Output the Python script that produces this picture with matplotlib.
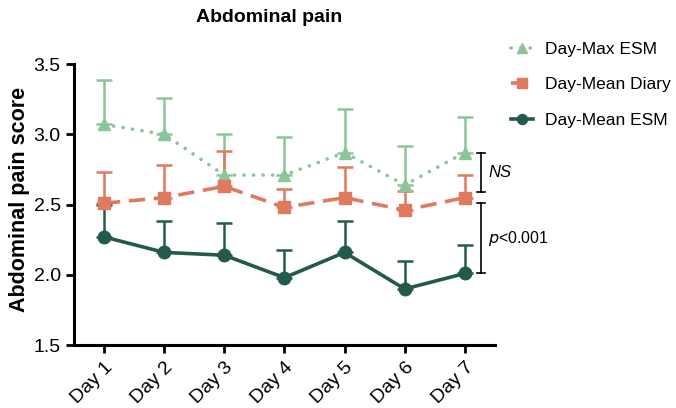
import matplotlib.pyplot as plt
import numpy as np

plt.rcParams['font.family'] = ['Liberation Sans', 'DejaVu Sans']

days = ['Day 1', 'Day 2', 'Day 3', 'Day 4', 'Day 5', 'Day 6', 'Day 7']

max_esm = [3.07, 3.00, 2.71, 2.71, 2.87, 2.64, 2.87]
max_esm_err = [0.32, 0.26, 0.29, 0.27, 0.31, 0.28, 0.25]

mean_diary = [2.51, 2.55, 2.63, 2.48, 2.55, 2.46, 2.55]
mean_diary_err = [0.22, 0.23, 0.25, 0.13, 0.22, 0.14, 0.16]

mean_esm = [2.27, 2.16, 2.14, 1.98, 2.16, 1.90, 2.01]
mean_esm_err = [0.23, 0.22, 0.23, 0.20, 0.22, 0.20, 0.20]

c_max = '#8cc59a'
c_diary = '#e07a5f'
c_esm = '#245a4e'

x = np.arange(1, len(days) + 1)

fig = plt.figure(figsize=(6.76, 4.08), dpi=100)
ax = fig.add_axes([0.1095, 0.154, 0.6225, 0.689])

series = [
    (max_esm, max_esm_err, c_max, (0, (0.05, 2.6)), '^', 'Day-Max ESM'),
    (mean_diary, mean_diary_err, c_diary, (0, (4.5, 2.4)), 's', 'Day-Mean Diary'),
    (mean_esm, mean_esm_err, c_esm, '-', 'o', 'Day-Mean ESM'),
]
handles = []
for vals, err, col, ls, mk, lab in series:
    ax.errorbar(x, vals, yerr=[np.zeros(len(err)), err], fmt='none',
                ecolor=col, elinewidth=1.8, capsize=6, capthick=1.8, zorder=2)
    h, = ax.plot(x, vals, linestyle=ls, color=col, lw=2.6, marker=mk,
                 markersize=9, label=lab, zorder=3,
                 dash_capstyle='round' if mk == '^' else 'butt')
    handles.append(h)

ax.set_xlim(0.5, 7.5)
ax.set_ylim(1.5, 3.5)
ax.set_yticks([1.5, 2.0, 2.5, 3.0, 3.5])
ax.set_yticklabels(['1.5', '2.0', '2.5', '3.0', '3.5'])
ax.set_xticks(x)
ax.set_xticklabels(days, rotation=45, ha='right', rotation_mode='anchor')
ax.tick_params(axis='both', width=2, length=6, labelsize=14, direction='out')

for s in ['top', 'right']:
    ax.spines[s].set_visible(False)
for s in ['left', 'bottom']:
    ax.spines[s].set_linewidth(2.2)

ax.set_ylabel('Abdominal pain score', fontsize=15.5, fontweight='bold')
ax.yaxis.set_label_coords(-0.105, 0.52)
fig.text(269 / 676, 1 - 18 / 408, 'Abdominal pain', fontsize=14, fontweight='bold',
         ha='center', va='center')

# significance brackets
bx = 7.27
for y0, y1 in [(2.59, 2.87), (2.01, 2.51)]:
    ax.plot([bx, bx], [y0, y1], color='black', lw=1.2, clip_on=False)
    for yy in (y0, y1):
        ax.plot([bx - 0.07, bx + 0.07], [yy, yy], color='black', lw=1.2, clip_on=False)
ax.text(bx + 0.12, 2.73, 'NS', fontsize=12, style='italic', va='center')
ax.text(bx + 0.12, 2.26, r'$\it{p}$<0.001', fontsize=11.5, va='center')

leg = fig.legend(handles=handles, loc='upper left', bbox_to_anchor=(0.745, 0.915),
                 frameon=False, fontsize=12.5, handlelength=1.3, labelspacing=1.18,
                 handletextpad=0.7, markerscale=0.8, borderaxespad=0)

fig.savefig('out.png', dpi=100)
